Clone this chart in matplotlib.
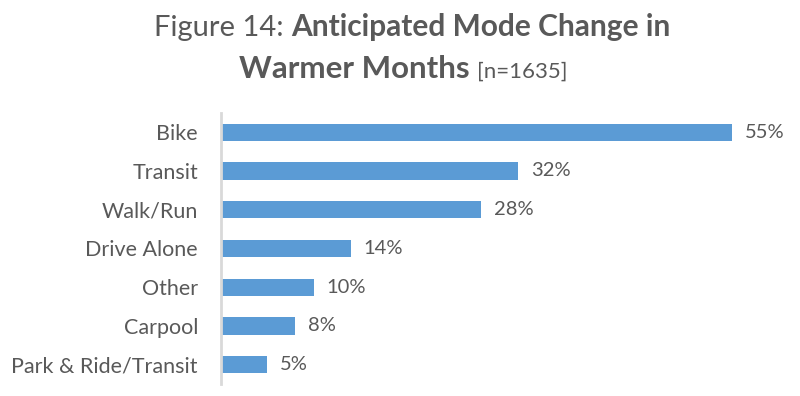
import matplotlib
matplotlib.use("Agg")
import matplotlib.pyplot as plt

categories = ["Bike", "Transit", "Walk/Run", "Drive Alone", "Other", "Carpool", "Park & Ride/Transit"]
values = [55, 32, 28, 14, 10, 8, 5]
value_labels = ["55%", "32%", "28%", "14%", "10%", "8%", "5%"]

GRAY = "#595959"
BLUE = "#5B9BD5"
FONT = "Lato"

plt.rcParams["font.family"] = [FONT, "DejaVu Sans"]

fig = plt.figure(figsize=(8, 3.96), dpi=100)
ax = fig.add_axes([0.276, 0.030, 0.699, 0.685])

ypos = list(range(len(categories)))
ax.barh(ypos, values, height=0.45, color=BLUE)
for y, v, lab in zip(ypos, values, value_labels):
    ax.text(v + 1.4, y, lab, va="center", ha="left", fontsize=14.5, color=GRAY)

ax.set_yticks(ypos)
ax.set_yticklabels(categories, fontsize=15.5, color=GRAY)
ax.set_ylim(len(categories) - 0.5, -0.5)
ax.set_xlim(0, 60.2)
ax.set_xticks([])
ax.tick_params(axis="y", length=0, pad=16.5)
for s in ["top", "right", "bottom"]:
    ax.spines[s].set_visible(False)
ax.spines["left"].set_color("#D9D9D9")
ax.spines["left"].set_linewidth(2)


# title with mixed weights, each line centered (plus a small shift in px)
def centered_line(parts, y, shift=0):
    fig.canvas.draw()
    r = fig.canvas.get_renderer()
    texts = []
    for s, kw in parts:
        t = fig.text(0, y, s, color=GRAY, va="baseline", ha="left", **kw)
        texts.append(t)
    widths = [t.get_window_extent(r).width for t in texts]
    total = sum(widths)
    x = (fig.bbox.width - total) / 2 + shift
    for t, w in zip(texts, widths):
        t.set_x(x / fig.bbox.width)
        x += w


centered_line([("Figure 14: ", dict(fontsize=21)),
               ("Anticipated Mode Change in", dict(fontsize=21.5, fontweight="bold"))],
              1 - 36 / 396, shift=12)
centered_line([("Warmer Months ", dict(fontsize=22.5, fontweight="bold")),
               ("[n=1635]", dict(fontsize=16))],
              1 - 78 / 396, shift=3)

fig.savefig("out.png", dpi=100)
